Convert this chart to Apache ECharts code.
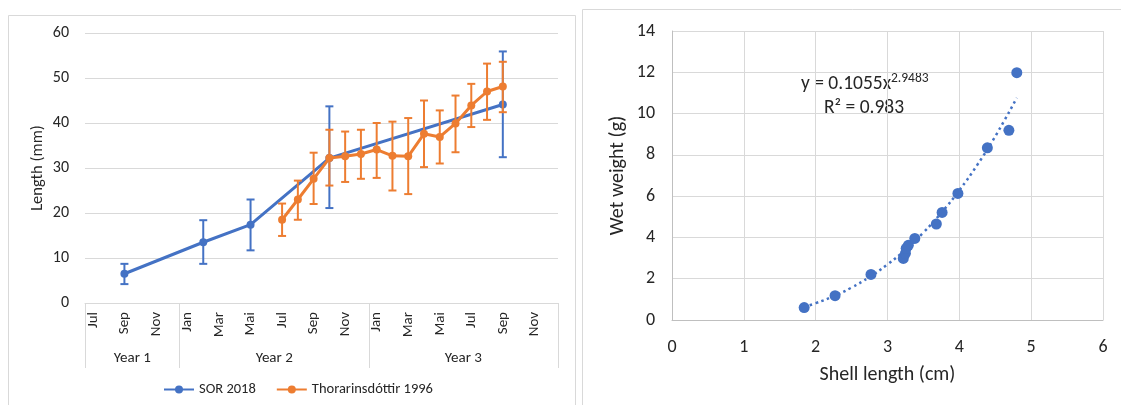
<!DOCTYPE html>
<html>
<head>
<meta charset="utf-8">
<script src="https://cdn.jsdelivr.net/npm/echarts@6/dist/echarts.min.js"></script>
<style>
  html, body { margin: 0; padding: 0; background: #fff; }
  #main { width: 1121px; height: 405px; }
</style>
</head>
<body>
<div id="main"></div>
<script>
// left chart: months Jul (year 1) .. Des (year 3)
var months = ['Jul', 'Aug', 'Sep', 'Okt', 'Nov', 'Des',
  'Jan', 'Feb', 'Mar', 'Apr', 'Mai', 'Jun', 'Jul', 'Aug', 'Sep', 'Okt', 'Nov', 'Des',
  'Jan', 'Feb', 'Mar', 'Apr', 'Mai', 'Jun', 'Jul', 'Aug', 'Sep', 'Okt', 'Nov', 'Des'];
var yearNames = ['Year 1', 'Year 2', 'Year 3'];
var yearCenters = [3, 12, 24];      // middle of each year span (in months)
var yearBounds = [0, 6, 18, 30];    // separators

var _ = null;
var sorMean = [_, _, 6.5, _, _, _, _, 13.5, _, _, 17.4, _, _, _, _, 32.2, _, _, _, _, _, _, _, _, _, _, 44.1, _, _, _];
var sorLow  = [_, _, 4.2, _, _, _, _, 8.7, _, _, 11.7, _, _, _, _, 21.1, _, _, _, _, _, _, _, _, _, _, 32.4, _, _, _];
var sorHigh = [_, _, 8.7, _, _, _, _, 18.4, _, _, 23.0, _, _, _, _, 43.7, _, _, _, _, _, _, _, _, _, _, 55.9, _, _, _];

var thoMean = [_, _, _, _, _, _, _, _, _, _, _, _, 18.5, 23.0, 27.6, 32.2, 32.6, 33.1, 34.1, 32.7, 32.6, 37.6, 36.9, 39.9, 43.9, 47.0, 48.1, _, _, _];
var thoLow  = [_, _, _, _, _, _, _, _, _, _, _, _, 14.9, 18.5, 22.0, 26.1, 26.9, 27.6, 27.8, 25.0, 24.2, 30.2, 31.0, 33.5, 39.1, 40.7, 42.4, _, _, _];
var thoHigh = [_, _, _, _, _, _, _, _, _, _, _, _, 22.1, 27.2, 33.4, 38.5, 38.1, 38.5, 40.0, 40.3, 41.1, 45.0, 42.8, 46.1, 48.7, 53.2, 53.6, _, _, _];

// right chart: shell length vs wet weight
var shellLen  = [1.84, 2.27, 2.77, 3.22, 3.25, 3.26, 3.29, 3.38, 3.68, 3.76, 3.98, 4.39, 4.69, 4.80];
var wetWeight = [0.60, 1.18, 2.21, 2.98, 3.23, 3.47, 3.62, 3.95, 4.65, 5.21, 6.13, 8.34, 9.19, 11.98];
// points along the power trendline y = 0.1055x^2.9483
var trendX = [1.84, 2.0, 2.25, 2.5, 2.75, 3.0, 3.25, 3.5, 3.75, 4.0, 4.25, 4.5, 4.8];
var trendY = [0.637, 0.814, 1.152, 1.572, 2.083, 2.691, 3.409, 4.239, 5.196, 6.285, 7.515, 8.896, 10.76];

var blue = '#4472C4';
var orange = '#ED7D31';
var grid = '#d9d9d9';
var txt = '#262626';
var font = 'Carlito, Lato, sans-serif';

function errData(low, high) {
  var out = [];
  for (var i = 0; i < low.length; i++) {
    if (low[i] != null) out.push([i, low[i], high[i]]);
  }
  return out;
}
function errRender(color) {
  return function (params, api) {
    var x = api.value(0);
    var lo = api.coord([x, api.value(1)]);
    var hi = api.coord([x, api.value(2)]);
    var w = 4;
    var st = { stroke: color, lineWidth: 2 };
    return {
      type: 'group',
      children: [
        { type: 'line', shape: { x1: lo[0], y1: lo[1], x2: hi[0], y2: hi[1] }, style: st },
        { type: 'line', shape: { x1: lo[0] - w, y1: lo[1], x2: lo[0] + w, y2: lo[1] }, style: st },
        { type: 'line', shape: { x1: hi[0] - w, y1: hi[1], x2: hi[0] + w, y2: hi[1] }, style: st }
      ]
    };
  };
}
function pairs(xs, ys) {
  return xs.map(function (x, i) { return [x, ys[i]]; });
}

var myChart = echarts.init(document.getElementById('main'));
var option = {
  backgroundColor: '#fff',
  animation: false,
  textStyle: { fontFamily: font, color: txt },
  graphic: [
    { type: 'rect', shape: { x: 8.5, y: 15.5, width: 567, height: 400 }, style: { fill: 'none', stroke: grid, lineWidth: 1 }, silent: true },
    { type: 'rect', shape: { x: 582.5, y: 9.5, width: 560, height: 410 }, style: { fill: 'none', stroke: grid, lineWidth: 1 }, silent: true },
    // trendline equation
    { type: 'text', silent: true, style: { x: 801, y: 84, text: 'y = 0.1055x', font: '19.5px ' + font, fill: txt, verticalAlign: 'middle' } },
    { type: 'text', silent: true, style: { x: 891, y: 79, text: '2.9483', font: '13.5px ' + font, fill: txt, verticalAlign: 'middle' } },
    { type: 'text', silent: true, style: { x: 824, y: 108, text: 'R² = 0.983', font: '19.5px ' + font, fill: txt, verticalAlign: 'middle' } }
  ],
  grid: [
    { left: 85, top: 33, width: 473, height: 270 },
    { left: 672, top: 31, width: 431, height: 289 }
  ],
  legend: {
    data: ['SOR 2018', 'Thorarinsdóttir 1996'],
    left: 158, top: 377,
    itemWidth: 30, itemHeight: 10, itemGap: 20,
    textStyle: { fontSize: 14.5, fontFamily: font, color: txt }
  },
  xAxis: [
    {
      gridIndex: 0, type: 'category', data: months, boundaryGap: true,
      axisLine: { lineStyle: { color: grid } },
      axisTick: { show: false },
      axisLabel: { rotate: 90, interval: 1, margin: 9, fontSize: 15, color: txt, fontFamily: font }
    },
    {
      gridIndex: 0, type: 'value', min: 0, max: 30, position: 'bottom',
      axisLine: { show: false },
      splitLine: { show: false },
      axisTick: { show: true, customValues: yearBounds, length: 65, lineStyle: { color: grid } },
      axisLabel: {
        customValues: yearCenters, margin: 48, fontSize: 15, color: txt, fontFamily: font,
        formatter: function (v) { return yearNames[yearCenters.indexOf(v)] || ''; }
      }
    },
    {
      gridIndex: 1, type: 'value', min: 0, max: 6, interval: 1,
      axisLine: { lineStyle: { color: '#bfbfbf' } },
      axisTick: { show: false },
      splitLine: { lineStyle: { color: grid } },
      axisLabel: { margin: 18, fontSize: 18, color: txt, fontFamily: font },
      name: 'Shell length (cm)', nameLocation: 'middle', nameGap: 45,
      nameTextStyle: { fontSize: 20, color: txt, fontFamily: font }
    }
  ],
  yAxis: [
    {
      gridIndex: 0, type: 'value', min: 0, max: 60, interval: 10,
      axisLine: { show: false },
      axisTick: { show: false },
      splitLine: { lineStyle: { color: grid } },
      axisLabel: { margin: 16, fontSize: 16, color: txt, fontFamily: font },
      name: 'Length (mm)', nameLocation: 'middle', nameGap: 39, nameRotate: 90,
      nameTextStyle: { fontSize: 16.5, color: txt, fontFamily: font }
    },
    {
      gridIndex: 1, type: 'value', min: 0, max: 14, interval: 2,
      axisLine: { show: true, lineStyle: { color: '#bfbfbf' } },
      axisTick: { show: false },
      splitLine: { lineStyle: { color: grid } },
      axisLabel: { margin: 17, fontSize: 18, color: txt, fontFamily: font },
      name: 'Wet weight (g)', nameLocation: 'middle', nameGap: 44, nameRotate: 90,
      nameTextStyle: { fontSize: 20, color: txt, fontFamily: font }
    }
  ],
  series: [
    {
      name: 'SOR 2018', type: 'line', xAxisIndex: 0, yAxisIndex: 0,
      data: sorMean, connectNulls: true,
      symbol: 'circle', symbolSize: 8,
      itemStyle: { color: blue }, lineStyle: { color: blue, width: 3 }, z: 3
    },
    {
      name: 'SOR 2018 err', type: 'custom', xAxisIndex: 0, yAxisIndex: 0,
      data: errData(sorLow, sorHigh), encode: { x: 0, y: [1, 2] },
      renderItem: errRender(blue), z: 2
    },
    {
      name: 'Thorarinsdóttir 1996', type: 'line', xAxisIndex: 0, yAxisIndex: 0,
      data: thoMean, connectNulls: true,
      symbol: 'circle', symbolSize: 8,
      itemStyle: { color: orange }, lineStyle: { color: orange, width: 3 }, z: 5
    },
    {
      name: 'Thorarinsdóttir 1996 err', type: 'custom', xAxisIndex: 0, yAxisIndex: 0,
      data: errData(thoLow, thoHigh), encode: { x: 0, y: [1, 2] },
      renderItem: errRender(orange), z: 4
    },
    {
      name: 'trend', type: 'line', xAxisIndex: 2, yAxisIndex: 1,
      data: pairs(trendX, trendY), smooth: true, showSymbol: false,
      lineStyle: { color: blue, width: 2.5, type: [2.5, 3.5] }, z: 2
    },
    {
      name: 'weight', type: 'scatter', xAxisIndex: 2, yAxisIndex: 1,
      data: pairs(shellLen, wetWeight), symbolSize: 11,
      itemStyle: { color: blue, opacity: 1 }, z: 3
    }
  ]
};
myChart.setOption(option);
</script>
</body>
</html>
